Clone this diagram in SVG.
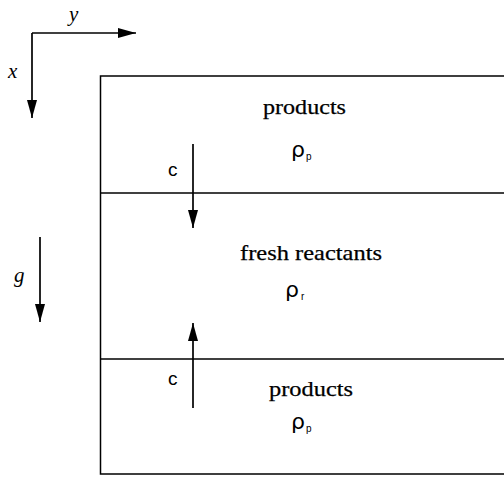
<svg xmlns="http://www.w3.org/2000/svg" width="504" height="477" viewBox="0 0 504 477">
<defs>
<marker id="ah" viewBox="0 0 18 10" refX="18" refY="5" markerWidth="18" markerHeight="10" markerUnits="userSpaceOnUse" orient="auto">
<path d="M0,0 L18,5 L0,10 Z" fill="#000"/>
</marker>
</defs>
<style>
.ln{stroke:#000;stroke-width:1.5;fill:none}
.ar{stroke:#000;stroke-width:1.7;fill:none}
.serif{font-family:"Liberation Serif","Times New Roman",serif;font-size:21px;fill:#000;stroke:#000;stroke-width:0.25}
.it{font-family:"Liberation Serif","Times New Roman",serif;font-style:italic;font-size:21px;fill:#000}
.sans{font-family:"Liberation Sans",Arial,sans-serif;font-size:19px;fill:#000}
.rho{font-family:"DejaVu Sans","Liberation Sans",sans-serif;font-size:22px;fill:#000}
.sub{font-family:"Liberation Sans",Arial,sans-serif;font-size:10px;fill:#000}
</style>
<rect width="504" height="477" fill="#fff"/>
<g id="box">
<path class="ln" d="M504,76 H100.5 V474 H504"/>
</g>
<g id="interfaces">
<line class="ln" x1="100" y1="193" x2="504" y2="193"/>
<line class="ln" x1="100" y1="359" x2="504" y2="359"/>
</g>
<g id="axes">
<line class="ar" x1="32" y1="33" x2="136" y2="33" marker-end="url(#ah)"/>
<line class="ar" x1="32" y1="33" x2="32" y2="118" marker-end="url(#ah)"/>
<text class="it" x="69" y="21">y</text>
<text class="it" x="8" y="78">x</text>
</g>
<g id="gravity">
<line class="ar" x1="40" y1="237" x2="40" y2="322" marker-end="url(#ah)"/>
<text class="it" x="14" y="282">g</text>
</g>
<g id="connectors">
<line class="ar" x1="193" y1="144" x2="193" y2="228" marker-end="url(#ah)"/>
<line class="ar" x1="193" y1="408" x2="193" y2="323" marker-end="url(#ah)"/>
</g>
<g id="labels-c">
<text class="sans" x="168" y="176">c</text>
<text class="sans" x="168" y="385">c</text>
</g>
<g id="region-top">
<text class="serif" x="263" y="114" textLength="83" lengthAdjust="spacingAndGlyphs">products</text>
<text class="rho" x="291" y="157">ρ</text><text class="sub" x="306" y="160">p</text>
</g>
<g id="region-middle">
<text class="serif" x="240" y="260" textLength="142" lengthAdjust="spacingAndGlyphs">fresh reactants</text>
<text class="rho" x="285" y="297">ρ</text><text class="sub" x="301" y="300">r</text>
</g>
<g id="region-bottom">
<text class="serif" x="269" y="396" textLength="84" lengthAdjust="spacingAndGlyphs">products</text>
<text class="rho" x="291" y="429">ρ</text><text class="sub" x="306" y="432">p</text>
</g>
</svg>
